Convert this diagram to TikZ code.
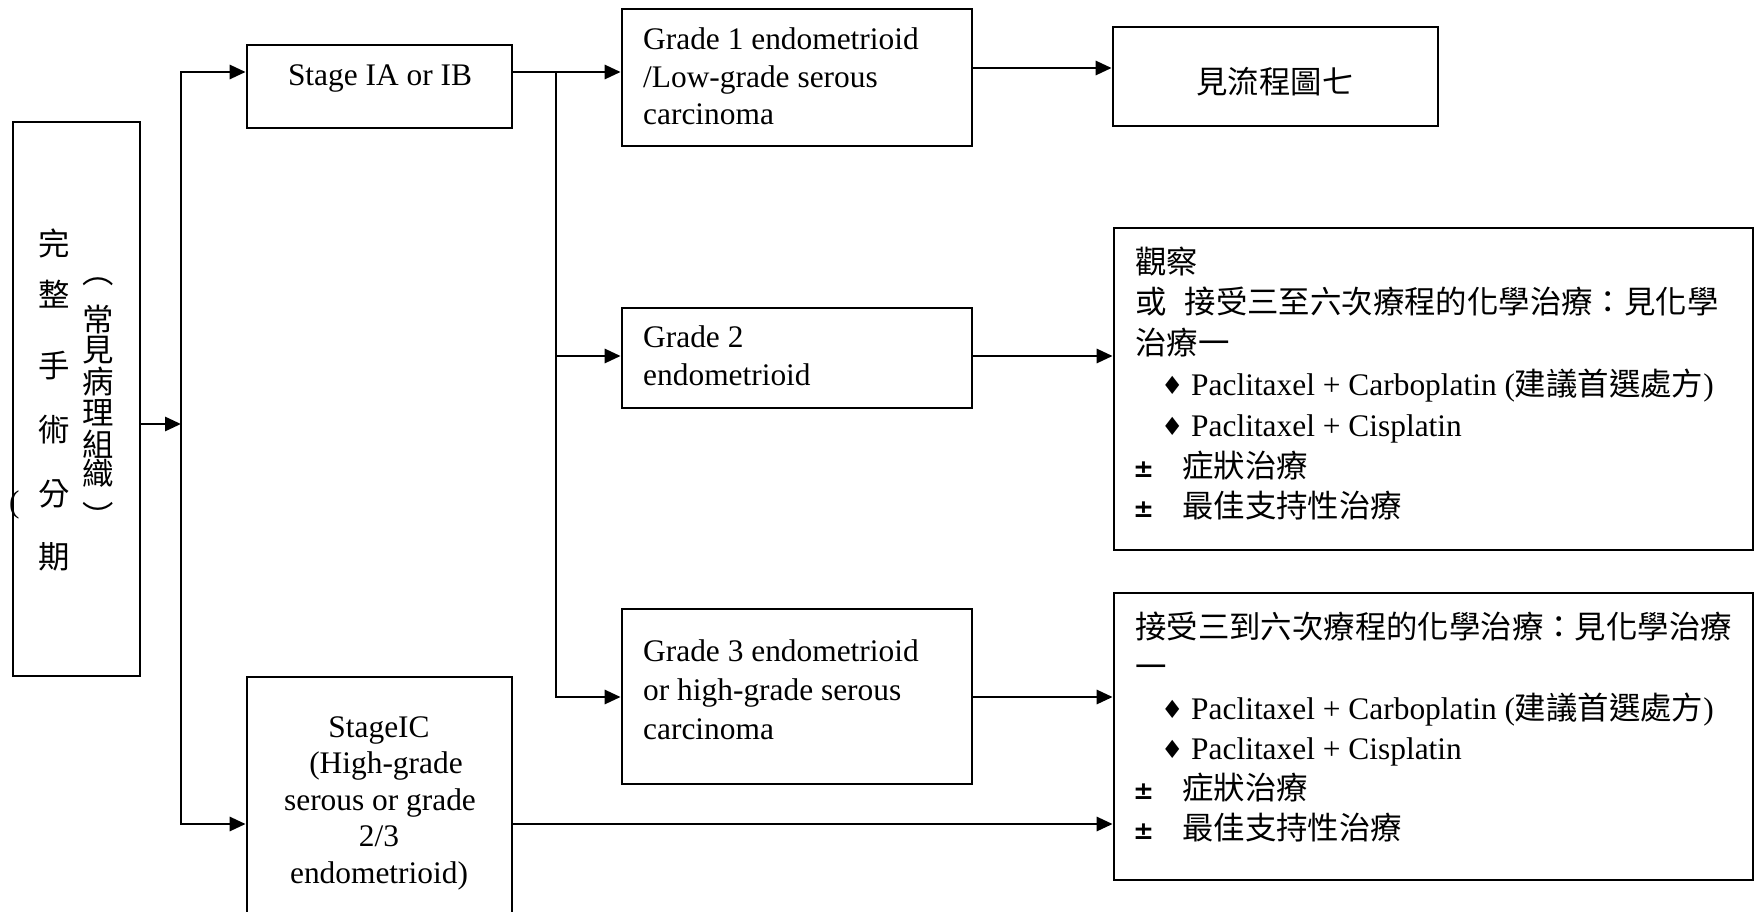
\documentclass[tikz,border=0pt]{standalone}
\usepackage{fontspec}
\setmainfont{Liberation Serif}
\newfontfamily\cjkf{Noto Sans CJK TC}
\newfontfamily\symf{DejaVu Sans}
\usetikzlibrary{arrows.meta}
\newcommand{\dia}{\makebox[30pt][l]{\raisebox{1pt}{\symf\fontsize{25}{25}\selectfont ♦}}}
\newcommand{\pmk}{\makebox[49pt][l]{\symf\bfseries\fontsize{25}{25}\selectfont ±}}
\begin{document}
\begin{tikzpicture}[x=1pt,y=-1pt,
  box/.style={draw, line width=2.7pt, inner sep=0pt},
  conn/.style={line width=2.9pt},
  arr/.style={conn, -{Triangle[length=16pt,width=14pt]}},
  txt/.style={inner sep=0pt, font=\fontsize{31.4}{38}\selectfont},
  cjk/.style={txt, font=\fontsize{31.4}{38}\selectfont\cjkf}
]
\useasboundingbox (0,0) rectangle (1755,912);

% boxes
\node[box, minimum width=127pt, minimum height=554pt] (L) at (76.5,399) {};
\node[box, minimum width=265pt, minimum height=83pt] (S1) at (379.5,86.5) {};
\node[box, minimum width=265pt, minimum height=248pt] (S2) at (379.5,801) {};
\node[box, minimum width=350pt, minimum height=137pt] (G1) at (797,77.5) {};
\node[box, minimum width=350pt, minimum height=100pt] (G2) at (797,358) {};
\node[box, minimum width=350pt, minimum height=175pt] (G3) at (797,696.5) {};
\node[box, minimum width=325pt, minimum height=99pt] (R1) at (1275.5,76.5) {};
\node[box, minimum width=639pt, minimum height=322pt] (R2) at (1433.5,389) {};
\node[box, minimum width=639pt, minimum height=287pt] (R3) at (1433.5,736.5) {};

% connectors
\coordinate (J0) at (181,424);
\coordinate (T1) at (181,72);
\coordinate (T2) at (181,824);
\coordinate (B1) at (556,72);
\coordinate (B2) at (556,356);
\coordinate (B3) at (556,697);
\coordinate (A1) at (1000,68);
\coordinate (A2) at (1000,356);
\coordinate (A3) at (1000,697);
\coordinate (A4) at (1000,824);
\draw[arr] (L.east |- J0) -- (J0);
\draw[arr] (T2) -- (T1) -- (S1.west |- T1);
\draw[arr] (T1) -- (T2) -- (S2.west |- T2);
\draw[arr] (S1.east |- B1) -- (G1.west |- B1);
\draw[arr] (B1) -- (B3) -- (G3.west |- B3);
\draw[arr] (B2) -- (G2.west |- B2);
\draw[arr] (G1.east |- A1) -- (R1.west |- A1);
\draw[arr] (G2.east |- A2) -- (R2.west |- A2);
\draw[arr] (G3.east |- A3) -- (R3.west |- A3);
\draw[arr] (S2.east |- A4) -- (R3.west |- A4);

% left vertical text
\foreach \c/\y [count=\i] in {完/243, 整/294, 手/366, 術/430, 分/494, 期/557}
  \node[cjk] (V\i) at (54,\y) {\c};
\foreach \c/\y [count=\i] in {︵/282, 常/320, 見/350, 病/382, 理/413, 組/444, 織/473, ︶/515}
  \node[cjk] (W\i) at (98,\y) {\c};
\node[txt, anchor=west] (P0) at (9,505) {(};

% stage boxes
\node[txt, anchor=base] (S1t) at (380,86) {Stage IA or IB};
\node[txt, anchor=base] (S2a) at (379,737) {StageIC};
\node[txt, anchor=base] (S2b) at (386,773.5) {(High-grade};
\node[txt, anchor=base] (S2c) at (380,810) {serous or grade};
\node[txt, anchor=base] (S2d) at (379,846.5) {2/3};
\node[txt, anchor=base] (S2e) at (379,883) {endometrioid)};

% grade boxes
\node[txt, anchor=base west] (G1a) at (643,50) {Grade 1 endometrioid};
\node[txt, anchor=base west] (G1b) at (643,87.5) {/Low-grade serous};
\node[txt, anchor=base west] (G1c) at (643,125) {carcinoma};
\node[txt, anchor=base west] (G2a) at (643,347) {Grade 2};
\node[txt, anchor=base west] (G2b) at (643,385) {endometrioid};
\node[txt, anchor=base west] (G3a) at (643,661) {Grade 3 endometrioid};
\node[txt, anchor=base west] (G3b) at (643,700) {or high-grade serous};
\node[txt, anchor=base west] (G3c) at (643,739) {carcinoma};

% right boxes
\node[cjk, anchor=base] (R1t) at (1275,94) {見流程圖七};

\node[cjk, anchor=base west] (R2a) at (1135,273) {觀察};
\node[cjk, anchor=base west] (R2b) at (1135,313.8) {或\hspace{18pt}接受三至六次療程的化學治療：見化學};
\node[cjk, anchor=base west] (R2c) at (1135,354.6) {治療一};
\node[txt, anchor=base west] (R2d) at (1161,395.4) {\dia Paclitaxel + Carboplatin ({\cjkf 建議首選處方})};
\node[txt, anchor=base west] (R2e) at (1161,436.2) {\dia Paclitaxel + Cisplatin};
\node[txt, anchor=base west] (R2f) at (1133,477) {\pmk{\cjkf 症狀治療}};
\node[txt, anchor=base west] (R2g) at (1133,517.8) {\pmk{\cjkf 最佳支持性治療}};

\node[cjk, anchor=base west] (R3a) at (1135,638) {接受三到六次療程的化學治療：見化學治療};
\node[cjk, anchor=base west] (R3b) at (1135,678.5) {一};
\node[txt, anchor=base west] (R3c) at (1161,719) {\dia Paclitaxel + Carboplatin ({\cjkf 建議首選處方})};
\node[txt, anchor=base west] (R3d) at (1161,759.3) {\dia Paclitaxel + Cisplatin};
\node[txt, anchor=base west] (R3e) at (1133,799.5) {\pmk{\cjkf 症狀治療}};
\node[txt, anchor=base west] (R3f) at (1133,839.7) {\pmk{\cjkf 最佳支持性治療}};
\end{tikzpicture}
\end{document}
